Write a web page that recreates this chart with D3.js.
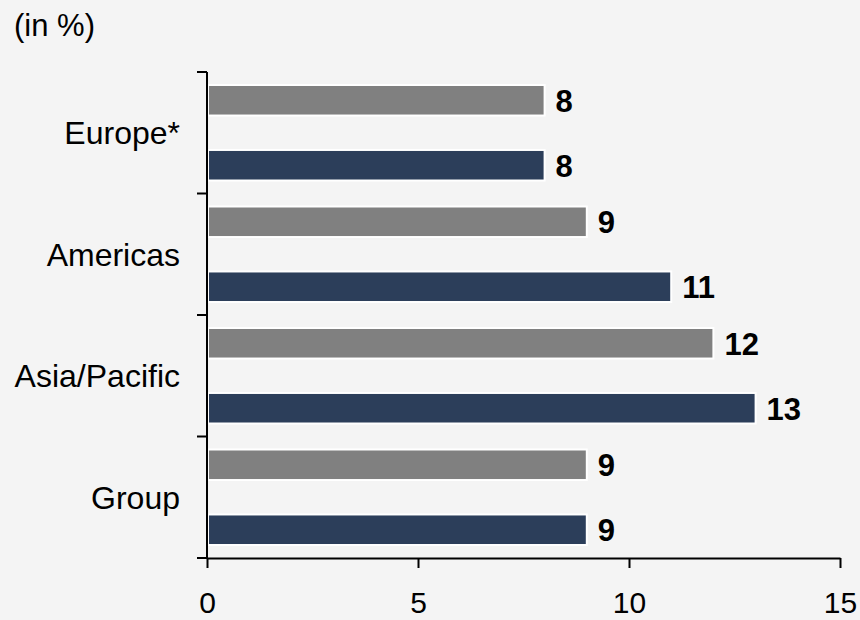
<!DOCTYPE html>
<html>
<head>
<meta charset="utf-8">
<script src="https://cdn.jsdelivr.net/npm/d3@7"></script>
<style>
  html, body { margin: 0; padding: 0; background: #f4f4f4; }
  svg { display: block; font-family: "Liberation Sans", Arial, Helvetica, sans-serif; }
</style>
</head>
<body>
<svg id="chart" width="860" height="620"></svg>
<script>
// Regions, top to bottom
const categories = ["Europe*", "Americas", "Asia/Pacific", "Group"];
// Two series per region: grey (previous) and navy (current)
const seriesKeys = ["previous", "current"];
const previousValues = [8, 9, 12, 9];
const currentValues = [8, 11, 13, 9];
const xTicks = [0, 5, 10, 15];
const unitLabel = "(in %)";

const colors = { previous: "#808080", current: "#2c3e5a" };

const rows = categories.map((c, i) => ({
  category: c,
  previous: previousValues[i],
  current: currentValues[i]
}));

const svg = d3.select("#chart");
const plotLeft = 207, plotRight = 840, plotTop = 72, plotBottom = 558;
const fontSize = 32;

const x = d3.scaleLinear().domain([0, 15]).range([plotLeft, plotRight]);
const y0 = d3.scaleBand().domain(categories).range([plotTop, plotBottom]).padding(0);
const y1 = d3.scaleBand().domain(seriesKeys).range([0, y0.bandwidth()])
  .paddingInner(0.53).paddingOuter(0.2);

// Unit label
svg.append("text")
  .attr("x", 14).attr("y", 36)
  .attr("font-size", fontSize - 1)
  .attr("fill", "#000")
  .text(unitLabel);

// Bars
const groups = svg.append("g").selectAll("g")
  .data(rows).join("g")
  .attr("transform", d => `translate(0,${y0(d.category)})`);

groups.selectAll("rect")
  .data(d => seriesKeys.map(k => ({ key: k, value: d[k] })))
  .join("rect")
  .attr("x", x(0) + 1)
  .attr("y", d => y1(d.key))
  .attr("width", d => x(d.value) - x(0) - 1)
  .attr("height", y1.bandwidth())
  .attr("fill", d => colors[d.key])
  .attr("stroke", "#ffffff")
  .attr("stroke-width", 2);

// Value labels
groups.selectAll("text.val")
  .data(d => seriesKeys.map(k => ({ key: k, value: d[k] })))
  .join("text")
  .attr("class", "val")
  .attr("x", d => x(d.value) + 11)
  .attr("y", d => y1(d.key) + y1.bandwidth() / 2 + 11.5)
  .attr("font-size", fontSize - 1)
  .attr("font-weight", "bold")
  .attr("fill", "#000")
  .text(d => d.value);

// Category labels
svg.append("g").selectAll("text")
  .data(categories).join("text")
  .attr("x", 180)
  .attr("y", d => y0(d) + y0.bandwidth() / 2 + 11.5)
  .attr("text-anchor", "end")
  .attr("font-size", fontSize)
  .attr("fill", "#000")
  .text(d => d);

// Y axis: line with ticks at band boundaries
const yAxis = svg.append("g");
yAxis.append("line")
  .attr("x1", plotLeft).attr("x2", plotLeft)
  .attr("y1", plotTop).attr("y2", plotBottom)
  .attr("stroke", "#000").attr("stroke-width", 2);
const boundaries = categories.map(c => y0(c)).concat([plotBottom]);
yAxis.selectAll("line.tick")
  .data(boundaries).join("line")
  .attr("class", "tick")
  .attr("x1", plotLeft - 10).attr("x2", plotLeft)
  .attr("y1", d => d).attr("y2", d => d)
  .attr("stroke", "#000").attr("stroke-width", 2);

// X axis
const xAxis = d3.axisBottom(x).tickValues(xTicks).tickSize(10).tickPadding(24).tickSizeOuter(0);
const gx = svg.append("g")
  .attr("transform", `translate(0,${plotBottom})`)
  .call(xAxis);
gx.select(".domain").attr("stroke", "#000").attr("stroke-width", 2);
gx.selectAll(".tick line").attr("stroke", "#000").attr("stroke-width", 2);
gx.selectAll(".tick text")
  .attr("font-size", 30)
  .attr("font-family", "Liberation Sans, Arial, sans-serif")
  .attr("fill", "#000");
</script>
</body>
</html>
